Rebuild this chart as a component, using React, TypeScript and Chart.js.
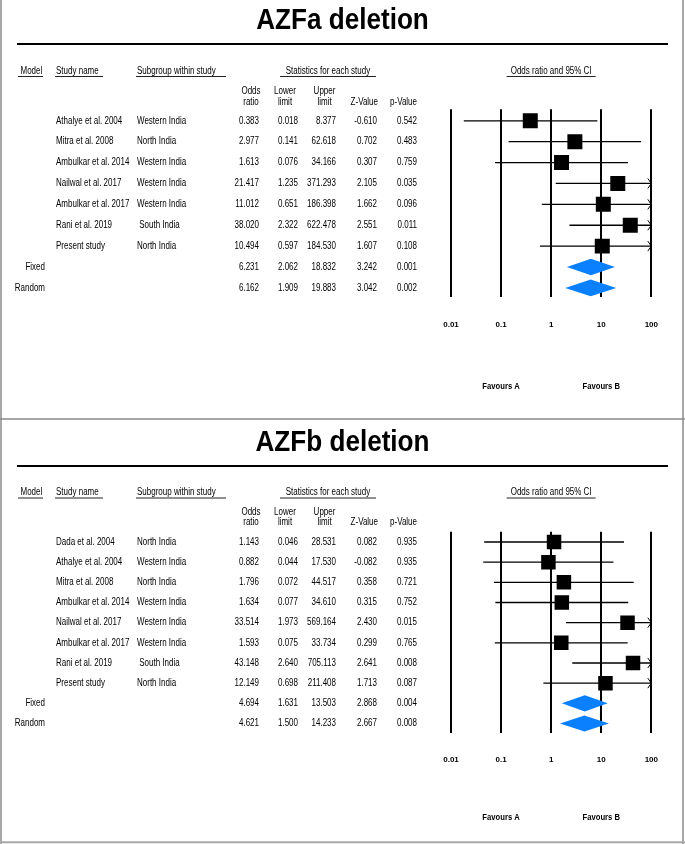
import React, { useEffect, useRef } from "react";
import { Chart, registerables } from "chart.js";

Chart.register(...registerables);

// ---------- shared axis data ----------
const TICK_VALUES = [0.01, 0.1, 1, 10, 100];
const TICK_LABELS = ["0.01", "0.1", "1", "10", "100"];
const FAVOURS_LABELS = ["Favours A", "Favours B"];
const FAVOURS_AT = [0.1, 10];
const HEADERS = ["Model", "Study name", "Subgroup within study", "Statistics for each study", "Odds ratio and 95% CI"];
const COL_HEAD_1 = ["Odds", "Lower", "Upper"];
const COL_HEAD_2 = ["ratio", "limit", "limit", "Z-Value", "p-Value"];

// ---------- AZFa ----------
const azfaModels = ["", "", "", "", "", "", "", "Fixed", "Random"];
const azfaStudies = ["Athalye et al. 2004", "Mitra et al. 2008", "Ambulkar et al. 2014", "Nailwal et al. 2017", "Ambulkar et al. 2017", "Rani et al. 2019", "Present study", "", ""];
const azfaSubgroups = ["Western India", "North India", "Western India", "Western India", "Western India", " South India", "North India", "", ""];
const azfaOR = [0.383, 2.977, 1.613, 21.417, 11.012, 38.02, 10.494, 6.231, 6.162];
const azfaLower = [0.018, 0.141, 0.076, 1.235, 0.651, 2.322, 0.597, 2.062, 1.909];
const azfaUpper = [8.377, 62.618, 34.166, 371.293, 186.398, 622.478, 184.53, 18.832, 19.883];
const azfaZ = [-0.61, 0.702, 0.307, 2.105, 1.662, 2.551, 1.607, 3.242, 3.042];
const azfaP = [0.542, 0.483, 0.759, 0.035, 0.096, 0.011, 0.108, 0.001, 0.002];

// ---------- AZFb ----------
const azfbModels = ["", "", "", "", "", "", "", "", "Fixed", "Random"];
const azfbStudies = ["Dada et al. 2004", "Athalye et al. 2004", "Mitra et al. 2008", "Ambulkar et al. 2014", "Nailwal et al. 2017", "Ambulkar et al. 2017", "Rani et al. 2019", "Present study", "", ""];
const azfbSubgroups = ["North India", "Western India", "North India", "Western India", "Western India", "Western India", " South India", "North India", "", ""];
const azfbOR = [1.143, 0.882, 1.796, 1.634, 33.514, 1.593, 43.148, 12.149, 4.694, 4.621];
const azfbLower = [0.046, 0.044, 0.072, 0.077, 1.973, 0.075, 2.64, 0.698, 1.631, 1.5];
const azfbUpper = [28.531, 17.53, 44.517, 34.61, 569.164, 33.734, 705.113, 211.408, 13.503, 14.233];
const azfbZ = [0.082, -0.082, 0.358, 0.315, 2.43, 0.299, 2.641, 1.713, 2.868, 2.667];
const azfbP = [0.935, 0.935, 0.721, 0.752, 0.015, 0.765, 0.008, 0.087, 0.004, 0.008];

const FAMILY = '"Liberation Sans", Arial, sans-serif';
const BODY_FONT = `10px ${FAMILY}`;
const TITLE_FONT = `bold 30px ${FAMILY}`;
const FAV_FONT = `bold 9px ${FAMILY}`;
const DIAMOND_COLOR = "#0a80ff";

type PanelCfg = {
  title: string;
  models: string[];
  studies: string[];
  subgroups: string[];
  or: number[];
  lower: number[];
  upper: number[];
  z: number[];
  p: number[];
  height: number;
  padTop: number;
  padBottom: number;
  yMin: number;
  yMax: number;
  tickPad: number;
  squareR: number;
  titleY: number;
  ruleY: number;
  headY: number;
  ulY: number;
  colY1: number;
  colY2: number;
  favY: number;
  bottomY: number;
  bottomColor: string;
  bottomWidth: number;
};

function txt(ctx: CanvasRenderingContext2D, s: string, x: number, y: number, align: CanvasTextAlign, font: string, sx = 0.8, color = "#000") {
  ctx.save();
  ctx.font = font;
  ctx.fillStyle = color;
  ctx.textBaseline = "middle";
  ctx.textAlign = align;
  ctx.translate(x, y);
  ctx.scale(sx, 1);
  ctx.fillText(s, 0, 0);
  ctx.restore();
}

function hline(ctx: CanvasRenderingContext2D, x1: number, x2: number, y: number, w: number, color: string) {
  ctx.save();
  ctx.strokeStyle = color;
  ctx.lineWidth = w;
  ctx.beginPath();
  ctx.moveTo(x1, y);
  ctx.lineTo(x2, y);
  ctx.stroke();
  ctx.restore();
}

function vline(ctx: CanvasRenderingContext2D, x: number, y1: number, y2: number, w: number, color: string) {
  ctx.save();
  ctx.strokeStyle = color;
  ctx.lineWidth = w;
  ctx.beginPath();
  ctx.moveTo(x, y1);
  ctx.lineTo(x, y2);
  ctx.stroke();
  ctx.restore();
}

function Panel({ cfg }: { cfg: PanelCfg }) {
  const ref = useRef<HTMLCanvasElement>(null);
  useEffect(() => {
    const canvas = ref.current;
    if (!canvas) return;
    const studyIdx = cfg.models.map((m, i) => (m ? -1 : i)).filter((i) => i >= 0);
    const sumIdx = cfg.models.map((m, i) => (m ? i : -1)).filter((i) => i >= 0);

    const datasets: any[] = [
      {
        type: "scatter",
        data: studyIdx.map((i) => ({ x: cfg.or[i], y: i })),
        pointStyle: "rect",
        pointRadius: cfg.squareR,
        pointHoverRadius: cfg.squareR,
        backgroundColor: "#000",
        borderWidth: 0,
      },
    ];
    studyIdx.forEach((i) => {
      datasets.push({
        type: "scatter",
        showLine: true,
        data: [
          { x: cfg.lower[i], y: i },
          { x: cfg.upper[i], y: i },
        ],
        borderColor: "#000",
        borderWidth: 1.3,
        pointRadius: 0,
        pointHoverRadius: 0,
      });
    });

    const plugin = {
      id: "forestTable",
      afterDatasetsDraw(chart: any) {
        const { ctx, chartArea } = chart;
        const x = chart.scales.x;
        const y = chart.scales.y;
        const rowH = Math.abs(y.getPixelForValue(1) - y.getPixelForValue(0));
        ctx.save();
        sumIdx.forEach((i) => {
          const cy = y.getPixelForValue(i);
          const h = rowH * 0.4;
          ctx.beginPath();
          ctx.moveTo(x.getPixelForValue(cfg.lower[i]), cy);
          ctx.lineTo(x.getPixelForValue(cfg.or[i]), cy - h);
          ctx.lineTo(x.getPixelForValue(cfg.upper[i]), cy);
          ctx.lineTo(x.getPixelForValue(cfg.or[i]), cy + h);
          ctx.closePath();
          ctx.fillStyle = DIAMOND_COLOR;
          ctx.fill();
        });
        // arrows for intervals beyond the axis max
        studyIdx.forEach((i) => {
          if (cfg.upper[i] <= x.max) return;
          const cy = y.getPixelForValue(i);
          const tip = chartArea.right;
          ctx.strokeStyle = "#000";
          ctx.lineWidth = 1;
          ctx.beginPath();
          ctx.moveTo(tip - 3.5, cy - 5);
          ctx.lineTo(tip, cy);
          ctx.lineTo(tip - 3.5, cy + 5);
          ctx.stroke();
        });
        ctx.restore();
      },
      afterDraw(chart: any) {
        const { ctx, chartArea, width, height } = chart;
        const x = chart.scales.x;
        const y = chart.scales.y;
        // title + rule
        txt(ctx, cfg.title, 342.5, cfg.titleY, "center", TITLE_FONT, 0.87);
        hline(ctx, 17, 668, cfg.ruleY, 2, "#000");
        // headers
        const cx = (chartArea.left + chartArea.right) / 2;
        txt(ctx, HEADERS[0], 20.5, cfg.headY, "left", BODY_FONT);
        hline(ctx, 18, 43, cfg.ulY, 1, "#222");
        txt(ctx, HEADERS[1], 56, cfg.headY, "left", BODY_FONT);
        hline(ctx, 55, 103, cfg.ulY, 1, "#222");
        txt(ctx, HEADERS[2], 137, cfg.headY, "left", BODY_FONT);
        hline(ctx, 136, 226, cfg.ulY, 1, "#222");
        txt(ctx, HEADERS[3], 328, cfg.headY, "center", BODY_FONT);
        hline(ctx, 280, 376, cfg.ulY, 1, "#222");
        txt(ctx, HEADERS[4], cx, cfg.headY, "center", BODY_FONT);
        hline(ctx, cx - 44.5, cx + 44.5, cfg.ulY, 1, "#222");
        // column headers
        const colC = [251, 285, 324.5];
        COL_HEAD_1.forEach((s, k) => txt(ctx, s, colC[k], cfg.colY1, "center", BODY_FONT));
        COL_HEAD_2.slice(0, 3).forEach((s, k) => txt(ctx, s, colC[k], cfg.colY2, "center", BODY_FONT));
        txt(ctx, COL_HEAD_2[3], 378, cfg.colY2, "right", BODY_FONT);
        txt(ctx, COL_HEAD_2[4], 417, cfg.colY2, "right", BODY_FONT);
        // rows
        cfg.or.forEach((_, i) => {
          const ry = y.getPixelForValue(i);
          if (cfg.models[i]) txt(ctx, cfg.models[i], 45, ry, "right", BODY_FONT);
          if (cfg.studies[i]) txt(ctx, cfg.studies[i], 56, ry, "left", BODY_FONT);
          if (cfg.subgroups[i]) txt(ctx, cfg.subgroups[i], 137, ry, "left", BODY_FONT);
          txt(ctx, cfg.or[i].toFixed(3), 259, ry, "right", BODY_FONT);
          txt(ctx, cfg.lower[i].toFixed(3), 298, ry, "right", BODY_FONT);
          txt(ctx, cfg.upper[i].toFixed(3), 336, ry, "right", BODY_FONT);
          txt(ctx, cfg.z[i].toFixed(3), 377, ry, "right", BODY_FONT);
          txt(ctx, cfg.p[i].toFixed(3), 417, ry, "right", BODY_FONT);
        });
        // favours labels
        FAVOURS_LABELS.forEach((s, k) => txt(ctx, s, x.getPixelForValue(FAVOURS_AT[k]), cfg.favY, "center", FAV_FONT, 0.85));
        // frame
        vline(ctx, 1, 0, height, 2, "#a8a8a8");
        vline(ctx, 683, 0, height, 2, "#a8a8a8");
        hline(ctx, 0, width, cfg.bottomY, cfg.bottomWidth, cfg.bottomColor);
      },
    };

    const chart = new Chart(canvas, {
      type: "scatter",
      data: { datasets },
      options: {
        responsive: false,
        animation: false,
        events: [],
        layout: { padding: { left: 451, right: 33.7, top: cfg.padTop, bottom: cfg.padBottom } },
        plugins: { legend: { display: false }, tooltip: { enabled: false }, title: { display: false } },
        scales: {
          x: {
            type: "logarithmic",
            min: TICK_VALUES[0],
            max: TICK_VALUES[TICK_VALUES.length - 1],
            z: 1,
            afterBuildTicks: (s: any) => {
              s.ticks = TICK_VALUES.map((v) => ({ value: v }));
            },
            ticks: {
              callback: (_v: any, idx: number) => TICK_LABELS[idx],
              font: { family: FAMILY, size: 8, weight: "bold" },
              color: "#000",
              padding: cfg.tickPad,
              maxRotation: 0,
              autoSkip: false,
            },
            grid: { color: "#000", lineWidth: 2, drawTicks: false },
            border: { display: false },
          },
          y: { type: "linear", min: cfg.yMin, max: cfg.yMax, reverse: true, display: false },
        },
      } as any,
      plugins: [plugin],
    });
    return () => chart.destroy();
  }, [cfg]);
  return <canvas ref={ref} width={685} height={cfg.height} style={{ display: "block", width: 685, height: cfg.height }} />;
}

const panelA: PanelCfg = {
  title: "AZFa deletion",
  models: azfaModels,
  studies: azfaStudies,
  subgroups: azfaSubgroups,
  or: azfaOR,
  lower: azfaLower,
  upper: azfaUpper,
  z: azfaZ,
  p: azfaP,
  height: 420,
  padTop: 109.3,
  padBottom: 67.3,
  yMin: -0.55,
  yMax: 8.45,
  tickPad: 22.9,
  squareR: 10.6,
  titleY: 21,
  ruleY: 44,
  headY: 71,
  ulY: 76.5,
  colY1: 91,
  colY2: 102,
  favY: 387,
  bottomY: 419,
  bottomColor: "#8a8a8a",
  bottomWidth: 1.5,
};

const panelB: PanelCfg = {
  title: "AZFb deletion",
  models: azfbModels,
  studies: azfbStudies,
  subgroups: azfbSubgroups,
  or: azfbOR,
  lower: azfbLower,
  upper: azfbUpper,
  z: azfbZ,
  p: azfbP,
  height: 424,
  padTop: 111.7,
  padBottom: 58.1,
  yMin: -0.51,
  yMax: 9.456,
  tickPad: 21.8,
  squareR: 10.25,
  titleY: 23,
  ruleY: 46,
  headY: 72.7,
  ulY: 78,
  colY1: 92,
  colY2: 102.7,
  favY: 398,
  bottomY: 422.3,
  bottomColor: "#a8a8a8",
  bottomWidth: 2,
};

export default function App() {
  return (
    <div style={{ width: 685, background: "#fff" }}>
      <style>{`body{margin:0;background:#fff}`}</style>
      <Panel cfg={panelA} />
      <Panel cfg={panelB} />
    </div>
  );
}
